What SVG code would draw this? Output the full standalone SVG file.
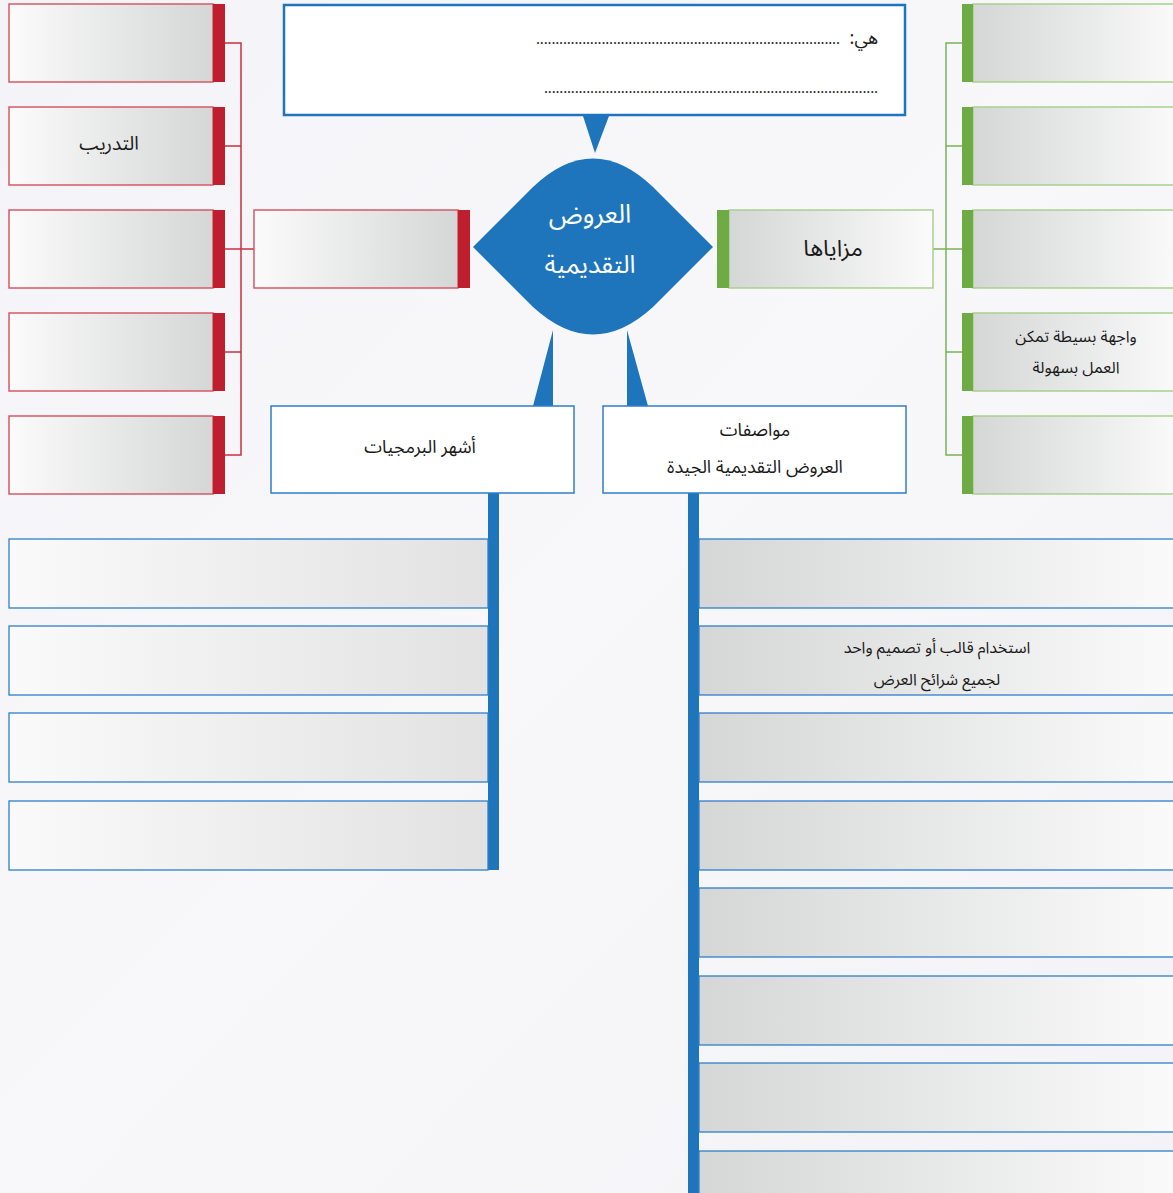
<svg xmlns="http://www.w3.org/2000/svg" width="1173" height="1193" viewBox="0 0 1173 1193">
<defs>
<linearGradient id="gL" x1="0" y1="0" x2="1" y2="0"><stop offset="0" stop-color="#fbfbfb"/><stop offset="1" stop-color="#d5d6d6"/></linearGradient>
<linearGradient id="gR" x1="0" y1="0" x2="1" y2="0"><stop offset="0" stop-color="#d5d6d6"/><stop offset="1" stop-color="#fbfbfb"/></linearGradient>
<linearGradient id="gBL" x1="0" y1="0" x2="1" y2="0"><stop offset="0" stop-color="#fafafa"/><stop offset="1" stop-color="#e2e2e2"/></linearGradient>
<linearGradient id="bg" x1="0" y1="0" x2="1" y2="1"><stop offset="0" stop-color="#f4f4f8"/><stop offset="0.5" stop-color="#f8f8fb"/><stop offset="1" stop-color="#f3f3f7"/></linearGradient>
<style>
.t{font-family:"Noto Sans Arabic","DejaVu Sans",sans-serif;fill:#1a1a1a;text-anchor:middle}
.red{fill:url(#gL);stroke:#d65a66;stroke-width:1.5}
.rbar{fill:#be1e2d}
.grn{fill:url(#gR);stroke:#a9d18e;stroke-width:1.5}
.gbar{fill:#6eab45}
.bl{fill:url(#gBL);stroke:#2f7fc8;stroke-width:1.3}
.br{fill:url(#gR);stroke:#2f7fc8;stroke-width:1.3}
.wb{fill:#ffffff;stroke:#2f7fc8;stroke-width:1.5}
.blue{fill:#1f75bc}
.rl{stroke:#c9323f;stroke-width:1.5;fill:none}
.gl{stroke:#79b255;stroke-width:1.5;fill:none}
</style>
</defs>
<rect x="0" y="0" width="1173" height="1193" fill="url(#bg)"/>

<g id="connectors">
<path class="rl" d="M225,43H241V455H225M225,146H241M225,249H254M225,352H241"/>
<path class="gl" d="M962,43H946V455H962M962,146H946M933,249H962M962,352H946"/>
<polygon class="blue" points="583,116 609,116 595,153"/>
<polygon class="blue" points="553,330 553,406 533,406"/>
<polygon class="blue" points="627,330 627,406 648,406"/>
<rect class="blue" x="488" y="493" width="11" height="377"/>
<rect class="blue" x="688" y="493" width="11" height="700"/>
</g>

<g id="definition">
<rect x="284" y="5" width="621" height="110" fill="#ffffff" stroke="#1f75bc" stroke-width="2.5"/>
<text class="t" x="878" y="44" font-size="18" direction="rtl" style="text-anchor:start;unicode-bidi:embed">هي:</text>
<text class="t" x="536" y="44" font-size="15" textLength="304" lengthAdjust="spacing" style="text-anchor:start;fill:#222">...............................................................................</text>
<text class="t" x="544" y="93" font-size="15" textLength="334" lengthAdjust="spacing" style="text-anchor:start;fill:#222">.......................................................................................</text>
</g>

<g id="center">
<path class="blue" d="M473,247 L533,187 Q593,130 653,187 L713,247 L653,307 Q593,362 533,307 Z"/>
<text class="t" x="590" y="223" font-size="26" style="fill:#ffffff">العروض</text>
<text class="t" x="590" y="273" font-size="25" style="fill:#ffffff">التقديمية</text>
</g>

<g id="red-hub"><rect class="red" x="254" y="210" width="204" height="78"/><rect class="rbar" x="458" y="210" width="12" height="78"/></g>
<g id="red1"><rect class="red" x="9" y="4" width="204" height="78"/><rect class="rbar" x="213" y="4" width="12" height="78"/></g>
<g id="red2"><rect class="red" x="9" y="107" width="204" height="78"/><rect class="rbar" x="213" y="107" width="12" height="78"/><text class="t" x="109" y="150" font-size="19">التدريب</text></g>
<g id="red3"><rect class="red" x="9" y="210" width="204" height="78"/><rect class="rbar" x="213" y="210" width="12" height="78"/></g>
<g id="red4"><rect class="red" x="9" y="313" width="204" height="78"/><rect class="rbar" x="213" y="313" width="12" height="78"/></g>
<g id="red5"><rect class="red" x="9" y="416" width="204" height="78"/><rect class="rbar" x="213" y="416" width="12" height="78"/></g>

<g id="advantages"><rect class="grn" x="729" y="210" width="204" height="78"/><rect class="gbar" x="717" y="210" width="12" height="78"/><text class="t" x="833" y="256" font-size="23">مزاياها</text></g>
<g id="green1"><rect class="grn" x="973" y="4" width="210" height="78"/><rect class="gbar" x="962" y="4" width="11" height="78"/></g>
<g id="green2"><rect class="grn" x="973" y="107" width="210" height="78"/><rect class="gbar" x="962" y="107" width="11" height="78"/></g>
<g id="green3"><rect class="grn" x="973" y="210" width="210" height="78"/><rect class="gbar" x="962" y="210" width="11" height="78"/></g>
<g id="green4"><rect class="grn" x="973" y="313" width="210" height="78"/><rect class="gbar" x="962" y="313" width="11" height="78"/>
<text class="t" x="1076" y="342" font-size="16">واجهة بسيطة تمكن</text>
<text class="t" x="1076" y="373" font-size="16">العمل بسهولة</text></g>
<g id="green5"><rect class="grn" x="973" y="416" width="210" height="78"/><rect class="gbar" x="962" y="416" width="11" height="78"/></g>

<g id="software"><rect class="wb" x="271" y="406" width="303" height="87"/><text class="t" x="420" y="453" font-size="18">أشهر البرمجيات</text></g>
<g id="specs"><rect class="wb" x="603" y="406" width="303" height="87"/>
<text class="t" x="755" y="436" font-size="18">مواصفات</text>
<text class="t" x="755" y="473" font-size="18">العروض التقديمية الجيدة</text></g>

<g id="soft1"><rect class="bl" x="9" y="539" width="479" height="69"/></g>
<g id="soft2"><rect class="bl" x="9" y="626" width="479" height="69"/></g>
<g id="soft3"><rect class="bl" x="9" y="713" width="479" height="69"/></g>
<g id="soft4"><rect class="bl" x="9" y="801" width="479" height="69"/></g>

<g id="spec1"><rect class="br" x="699" y="539" width="484" height="69"/></g>
<g id="spec2"><rect class="br" x="699" y="626" width="484" height="69"/>
<text class="t" x="937" y="653" font-size="16">استخدام قالب أو تصميم واحد</text>
<text class="t" x="937" y="685" font-size="16">لجميع شرائح العرض</text></g>
<g id="spec3"><rect class="br" x="699" y="713" width="484" height="69"/></g>
<g id="spec4"><rect class="br" x="699" y="801" width="484" height="69"/></g>
<g id="spec5"><rect class="br" x="699" y="888" width="484" height="69"/></g>
<g id="spec6"><rect class="br" x="699" y="976" width="484" height="69"/></g>
<g id="spec7"><rect class="br" x="699" y="1063" width="484" height="69"/></g>
<g id="spec8"><rect class="br" x="699" y="1151" width="484" height="69"/></g>
</svg>
